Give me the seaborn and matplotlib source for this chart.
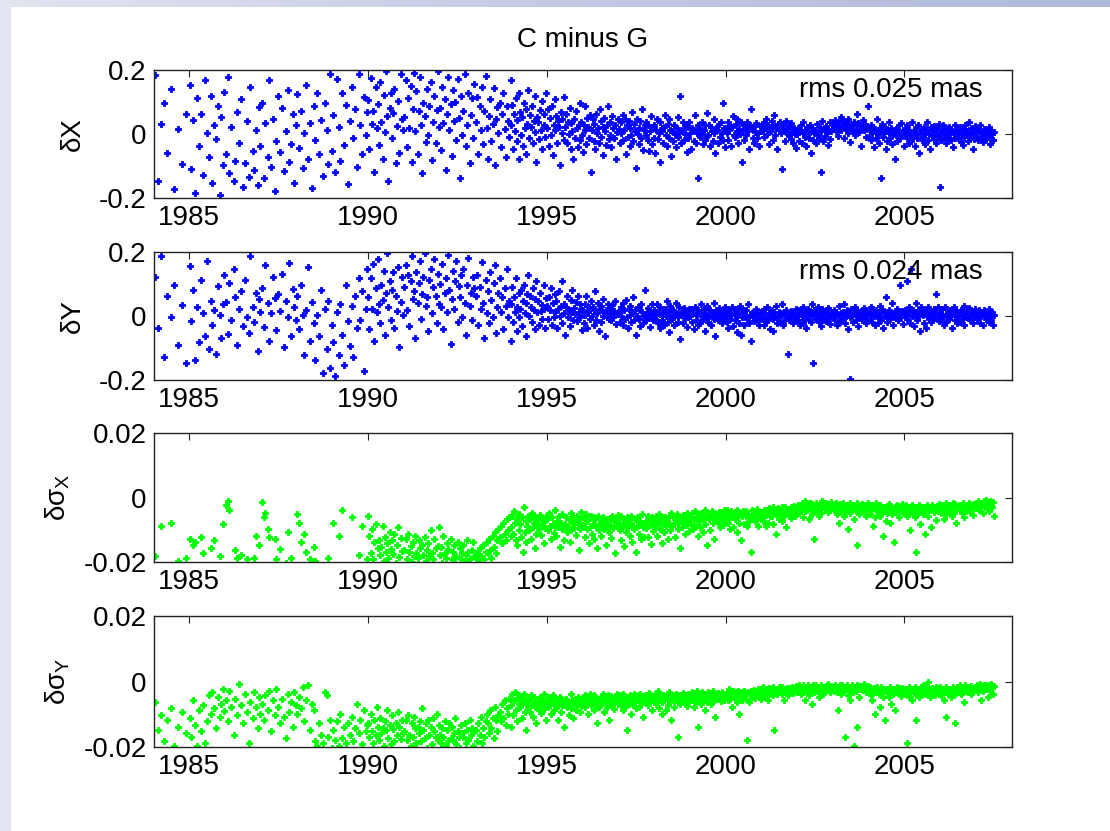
import numpy as np
import pandas as pd
import matplotlib
matplotlib.use("Agg")
import matplotlib.pyplot as plt
from matplotlib.patches import Rectangle
import seaborn as sns

# Session epochs (decimal years)
epoch = [
    1984.05, 1984.13, 1984.20, 1984.29, 1984.37, 1984.48, 1984.57, 1984.68, 1984.79, 1984.90,
    1985.02, 1985.06, 1985.11, 1985.17, 1985.22, 1985.27, 1985.33, 1985.38, 1985.44, 1985.49,
    1985.54, 1985.60, 1985.65, 1985.70, 1985.76, 1985.81, 1985.86, 1985.90, 1985.95, 1985.98,
    1986.03, 1986.08, 1986.12, 1986.18, 1986.24, 1986.29, 1986.34, 1986.40, 1986.45, 1986.50,
    1986.56, 1986.61, 1986.66, 1986.71, 1986.77, 1986.82, 1986.86, 1986.91, 1986.95, 1986.99,
    1987.04, 1987.09, 1987.13, 1987.19, 1987.24, 1987.28, 1987.34, 1987.39, 1987.44, 1987.49,
    1987.55, 1987.60, 1987.64, 1987.70, 1987.75, 1987.80, 1987.85, 1987.90, 1987.94, 1987.98,
    1988.02, 1988.07, 1988.12, 1988.17, 1988.22, 1988.27, 1988.32, 1988.38, 1988.43, 1988.48,
    1988.53, 1988.58, 1988.63, 1988.69, 1988.74, 1988.79, 1988.84, 1988.89, 1988.94, 1988.98,
    1989.03, 1989.08, 1989.13, 1989.18, 1989.23, 1989.28, 1989.33, 1989.39, 1989.44, 1989.49,
    1989.54, 1989.59, 1989.64, 1989.69, 1989.74, 1989.79, 1989.84, 1989.89, 1989.94, 1989.98,
    1990.01, 1990.04, 1990.08, 1990.11, 1990.14, 1990.17, 1990.21, 1990.24, 1990.27, 1990.31,
    1990.34, 1990.37, 1990.41, 1990.44, 1990.47, 1990.51, 1990.54, 1990.57, 1990.61, 1990.64,
    1990.67, 1990.71, 1990.74, 1990.77, 1990.81, 1990.84, 1990.87, 1990.91, 1990.94, 1990.97,
    1991.02, 1991.05, 1991.09, 1991.12, 1991.15, 1991.19, 1991.22, 1991.25, 1991.29, 1991.32,
    1991.35, 1991.39, 1991.42, 1991.45, 1991.49, 1991.52, 1991.55, 1991.59, 1991.62, 1991.65,
    1991.69, 1991.72, 1991.75, 1991.79, 1991.82, 1991.85, 1991.89, 1991.92, 1991.95, 1991.99,
    1992.01, 1992.04, 1992.08, 1992.11, 1992.14, 1992.17, 1992.21, 1992.24, 1992.27, 1992.31,
    1992.34, 1992.37, 1992.41, 1992.44, 1992.47, 1992.51, 1992.54, 1992.57, 1992.61, 1992.64,
    1992.67, 1992.71, 1992.74, 1992.77, 1992.81, 1992.84, 1992.87, 1992.91, 1992.94, 1992.97,
    1993.02, 1993.05, 1993.09, 1993.12, 1993.15, 1993.19, 1993.22, 1993.25, 1993.29, 1993.32,
    1993.35, 1993.39, 1993.42, 1993.45, 1993.49, 1993.52, 1993.55, 1993.59, 1993.62, 1993.65,
    1993.69, 1993.72, 1993.75, 1993.79, 1993.82, 1993.85, 1993.89, 1993.92, 1993.95, 1993.99,
    1994.01, 1994.03, 1994.06, 1994.08, 1994.11, 1994.13, 1994.16, 1994.18, 1994.21, 1994.23,
    1994.26, 1994.28, 1994.31, 1994.33, 1994.36, 1994.38, 1994.41, 1994.43, 1994.46, 1994.48,
    1994.51, 1994.53, 1994.56, 1994.58, 1994.61, 1994.63, 1994.66, 1994.68, 1994.71, 1994.73,
    1994.76, 1994.78, 1994.81, 1994.83, 1994.86, 1994.88, 1994.91, 1994.93, 1994.96, 1994.98,
    1995.02, 1995.04, 1995.07, 1995.09, 1995.12, 1995.14, 1995.17, 1995.19, 1995.22, 1995.24,
    1995.27, 1995.29, 1995.32, 1995.34, 1995.37, 1995.39, 1995.42, 1995.44, 1995.47, 1995.49,
    1995.52, 1995.54, 1995.57, 1995.59, 1995.62, 1995.64, 1995.67, 1995.69, 1995.72, 1995.74,
    1995.77, 1995.79, 1995.82, 1995.84, 1995.87, 1995.89, 1995.92, 1995.94, 1995.97, 1995.99,
    1996.01, 1996.03, 1996.06, 1996.08, 1996.11, 1996.13, 1996.16, 1996.18, 1996.21, 1996.23,
    1996.26, 1996.28, 1996.31, 1996.33, 1996.36, 1996.38, 1996.41, 1996.43, 1996.46, 1996.48,
    1996.51, 1996.53, 1996.56, 1996.58, 1996.61, 1996.63, 1996.66, 1996.68, 1996.71, 1996.73,
    1996.76, 1996.78, 1996.81, 1996.83, 1996.86, 1996.88, 1996.91, 1996.93, 1996.96, 1996.98,
    1997.02, 1997.04, 1997.07, 1997.09, 1997.12, 1997.14, 1997.17, 1997.19, 1997.22, 1997.24,
    1997.27, 1997.29, 1997.32, 1997.34, 1997.37, 1997.39, 1997.42, 1997.44, 1997.47, 1997.49,
    1997.52, 1997.54, 1997.57, 1997.59, 1997.62, 1997.64, 1997.67, 1997.69, 1997.72, 1997.74,
    1997.77, 1997.79, 1997.82, 1997.84, 1997.87, 1997.89, 1997.92, 1997.94, 1997.97, 1997.99,
    1998.01, 1998.03, 1998.06, 1998.08, 1998.11, 1998.13, 1998.16, 1998.18, 1998.21, 1998.23,
    1998.26, 1998.28, 1998.31, 1998.33, 1998.36, 1998.38, 1998.41, 1998.43, 1998.46, 1998.48,
    1998.51, 1998.53, 1998.56, 1998.58, 1998.61, 1998.63, 1998.66, 1998.68, 1998.71, 1998.73,
    1998.76, 1998.78, 1998.81, 1998.83, 1998.86, 1998.88, 1998.91, 1998.93, 1998.96, 1998.98,
    1999.02, 1999.04, 1999.07, 1999.09, 1999.12, 1999.14, 1999.17, 1999.19, 1999.22, 1999.24,
    1999.27, 1999.29, 1999.32, 1999.34, 1999.37, 1999.39, 1999.42, 1999.44, 1999.47, 1999.49,
    1999.52, 1999.54, 1999.57, 1999.59, 1999.62, 1999.64, 1999.67, 1999.69, 1999.72, 1999.74,
    1999.77, 1999.79, 1999.82, 1999.84, 1999.87, 1999.89, 1999.92, 1999.94, 1999.97, 1999.99,
    2000.01, 2000.03, 2000.06, 2000.08, 2000.11, 2000.13, 2000.16, 2000.18, 2000.21, 2000.23,
    2000.26, 2000.28, 2000.31, 2000.33, 2000.36, 2000.38, 2000.41, 2000.43, 2000.46, 2000.48,
    2000.51, 2000.53, 2000.56, 2000.58, 2000.61, 2000.63, 2000.66, 2000.68, 2000.71, 2000.73,
    2000.76, 2000.78, 2000.81, 2000.83, 2000.86, 2000.88, 2000.91, 2000.93, 2000.96, 2000.98,
    2001.02, 2001.04, 2001.07, 2001.09, 2001.12, 2001.14, 2001.17, 2001.19, 2001.22, 2001.24,
    2001.27, 2001.29, 2001.32, 2001.34, 2001.37, 2001.39, 2001.42, 2001.44, 2001.47, 2001.49,
    2001.52, 2001.54, 2001.57, 2001.59, 2001.62, 2001.64, 2001.67, 2001.69, 2001.72, 2001.74,
    2001.77, 2001.79, 2001.82, 2001.84, 2001.87, 2001.89, 2001.92, 2001.94, 2001.97, 2001.99,
    2002.01, 2002.03, 2002.06, 2002.08, 2002.11, 2002.13, 2002.16, 2002.18, 2002.21, 2002.23,
    2002.26, 2002.28, 2002.31, 2002.33, 2002.36, 2002.38, 2002.41, 2002.43, 2002.46, 2002.48,
    2002.51, 2002.53, 2002.56, 2002.58, 2002.61, 2002.63, 2002.66, 2002.68, 2002.71, 2002.73,
    2002.76, 2002.78, 2002.81, 2002.83, 2002.86, 2002.88, 2002.91, 2002.93, 2002.96, 2002.98,
    2003.02, 2003.04, 2003.07, 2003.09, 2003.12, 2003.14, 2003.17, 2003.19, 2003.22, 2003.24,
    2003.27, 2003.29, 2003.32, 2003.34, 2003.37, 2003.39, 2003.42, 2003.44, 2003.47, 2003.49,
    2003.52, 2003.54, 2003.57, 2003.59, 2003.62, 2003.64, 2003.67, 2003.69, 2003.72, 2003.74,
    2003.77, 2003.79, 2003.82, 2003.84, 2003.87, 2003.89, 2003.92, 2003.94, 2003.97, 2003.99,
    2004.01, 2004.03, 2004.06, 2004.08, 2004.11, 2004.13, 2004.16, 2004.18, 2004.21, 2004.23,
    2004.26, 2004.28, 2004.31, 2004.33, 2004.36, 2004.38, 2004.41, 2004.43, 2004.46, 2004.48,
    2004.51, 2004.53, 2004.56, 2004.58, 2004.61, 2004.63, 2004.66, 2004.68, 2004.71, 2004.73,
    2004.76, 2004.78, 2004.81, 2004.83, 2004.86, 2004.88, 2004.91, 2004.93, 2004.96, 2004.98,
    2005.02, 2005.04, 2005.07, 2005.09, 2005.12, 2005.14, 2005.17, 2005.19, 2005.22, 2005.24,
    2005.27, 2005.29, 2005.32, 2005.34, 2005.37, 2005.39, 2005.42, 2005.44, 2005.47, 2005.49,
    2005.52, 2005.54, 2005.57, 2005.59, 2005.62, 2005.64, 2005.67, 2005.69, 2005.72, 2005.74,
    2005.77, 2005.79, 2005.82, 2005.84, 2005.87, 2005.89, 2005.92, 2005.94, 2005.97, 2005.99,
    2006.01, 2006.03, 2006.06, 2006.08, 2006.11, 2006.13, 2006.16, 2006.18, 2006.21, 2006.23,
    2006.26, 2006.28, 2006.31, 2006.33, 2006.36, 2006.38, 2006.41, 2006.43, 2006.46, 2006.48,
    2006.51, 2006.53, 2006.56, 2006.58, 2006.61, 2006.63, 2006.66, 2006.68, 2006.71, 2006.73,
    2006.76, 2006.78, 2006.81, 2006.83, 2006.86, 2006.88, 2006.91, 2006.93, 2006.96, 2006.98,
    2007.01, 2007.04, 2007.06, 2007.09, 2007.12, 2007.14, 2007.17, 2007.20, 2007.22, 2007.25,
    2007.28, 2007.30, 2007.33, 2007.36, 2007.38, 2007.41, 2007.44, 2007.46, 2007.49, 2007.52,
]

# Nutation offset differences C - G, microarcseconds
dx_uas = [
    183, -147, 32, 96, -58, 141, -172, 17, -93, 64,
    154, -108, 43, -183, 112, -37, 61, -128, 168, 4,
    -72, 119, -153, 28, -17, 87, -191, 52, -98, 131,
    -63, 178, -121, 23, -148, -84, 69, -27, 108, -167,
    -92, 41, -134, 147, -53, -112, 12, -159, 83, -38,
    97, -138, 34, -71, 169, -102, 48, -178, -23, 118,
    -57, 81, -117, 9, 137, -88, -31, 62, -152, 27,
    124, -43, 73, -107, 3, 152, -79, 34, -168, 87,
    -19, 127, -63, 44, -131, 98, 13, -94, 187, -52,
    58, -118, 172, 22, -83, 128, -34, 91, -157, 42,
    148, -12, 79, -102, 189, 27, -61, 117, -3, 68,
    107, -48, 176, 31, 72, -118, 148, 19, 93, -33,
    162, 38, -77, 122, 7, 197, 57, -147, 81, 128,
    -14, 66, 141, -92, 24, 103, -58, 186, 47, 12,
    53, 168, -42, 113, 18, 151, -88, 79, 192, 9,
    133, -63, 72, 178, 29, -121, 98, 57, -24, 142,
    -2, 88, 163, -81, 37, 119, -28, 74, 198, 21,
    82, -51, 148, 33, 109, -113, 62, 177, 11, 93,
    -68, 139, 42, 101, -18, 172, 49, -138, 118, -4,
    73, 188, -37, 28, 127, -92, 58, 113, -12, 157,
    38, 117, -62, 88, 13, 146, -32, 71, 181, 19,
    -78, 57, 108, -23, 32, 143, -97, 48, 83, 2,
    97, -41, 63, 128, 17, -72, 86, 42, -8, 168,
    28, 91, -48, 63, 8, 112, -22, 43, 127, -77,
    68, -3, 52, -38, 97, 18, -61, 79, 31, 138,
    -12, 58, 23, 87, -29, 42, 118, 7, -88, 53,
    37, -17, 74, 11, 103, -46, 27, 62, -9, 129,
    18, 79, -38, 51, -2, 88, -67, 29, 108, 12,
    57, -28, 41, 21, -98, 68, 3, 48, 117, -19,
    22, 61, -27, 38, 1, 82, -47, 33, 9, -79,
    47, -11, 71, 19, -42, 27, 97, -18, 39, -4,
    -57, 28, 13, 87, -31, 49, 21, -12, 58, -118,
    12, 47, -21, 31, -48, 62, 2, 18, -29, 78,
    41, -8, 22, -67, 51, 9, -33, 28, 88, -17,
    -3, 38, -41, 57, 19, -13, 29, -78, 7, 48,
    17, -28, 39, 3, 58, -19, 11, 47, -61, 27,
    -9, 42, 18, -38, -2, 68, -21, 32, 8, -107,
    48, 1, -32, 19, 41, -11, 78, -49, 12, 28,
    -3, 37, -18, 29, -52, 9, 57, -31, 22, -12,
    27, -58, 12, 48, -17, 2, 39, -88, 18, 8,
    -29, 21, 59, -4, -38, 31, -12, 47, 11, -69,
    8, -21, 29, 1, -41, 18, 52, -8, 3, 118,
    -28, 12, 38, -19, -1, 27, -57, 21, -11, 39,
    2, -48, 19, 11, -22, 58, -29, 3, 28, -138,
    18, -9, 1, 38, -31, 12, -18, 29, 67, -7,
    -2, 28, -39, 21, 9, -21, 47, 2, -58, 19,
    11, -29, 31, -8, 39, 3, -19, 98, 18, -41,
    19, 2, 37, -18, 11, 28, -39, 21, 57, -3,
    -8, 31, 9, 48, -29, 17, 1, 38, -87, 12,
    28, -19, 22, -2, 39, 8, -48, 29, 78, 18,
    -11, 23, -27, 6, 33, -14, 2, -37, 26, 9,
    29, 12, 38, -9, 21, 47, 1, 28, -31, 19,
    8, 41, -18, 27, 58, -3, 19, -48, 31, 11,
    38, 2, 18, -108, 27, 9, -21, 42, 17, -1,
    -6, 24, -15, 33, 7, -28, 18, 1, -44, 13,
    1, 19, -21, 12, 28, -29, 3, 38, -9, 11,
    -38, 21, -1, -12, 29, -58, 8, 18, -19, 2,
    12, -28, 31, -3, -11, 22, -118, 9, 41, -21,
    17, -7, 26, 4, -33, 14, 36, -16, 8, 27,
    33, 21, 44, 8, 26, -7, 38, 17, 52, 12,
    24, 41, -13, 29, 16, 36, 3, 47, 22, -24,
    18, 31, 9, 39, -2, 27, 62, 14, 34, 6,
    28, -38, 21, 43, 11, 32, -9, 25, 17, 88,
    -9, 11, 28, -19, 2, 21, -41, 9, -11, 48,
    1, -29, 19, 12, -138, 31, -9, 2, 21, -48,
    11, -21, 3, 38, -12, 19, -31, 1, 9, -78,
    -4, 16, -23, 7, 27, -14, 33, -2, 12, -36,
    2, 18, -11, 29, -29, 12, -1, -22, 39, -9,
    9, -38, 1, 21, -12, 28, -59, 2, 11, -19,
    -8, 21, 3, -31, 12, 38, -19, 1, -48, 22,
    14, -4, 26, -17, 7, -28, 19, -6, 31, -167,
    1, -18, 12, 28, -9, 2, 19, -29, 11, -12,
    21, 1, -19, 9, -41, 3, 29, -11, 12, -2,
    -14, 7, 23, -26, 4, -33, 16, -8, 27, -3,
    9, -21, 36, -12, 2, 18, -47, 6, -17, 24,
    -6, 14, -19, 8, 27, -11, 3, -24, 17, -2,
    11, -15, 4, 22, -9, -31, 13, 1, -18, 7,
]

dy_uas = [
    123, -38, 187, -127, 62, -4, 98, -91, 33, -148,
    157, -17, 82, -138, 28, -81, 113, 8, -63, 172,
    -102, 47, -28, 19, -118, 93, 2, -69, 38, 128,
    43, -57, 103, -12, 148, 58, -92, 22, 78, -31,
    112, -3, -52, 188, 27, -18, 71, -108, 53, 11,
    88, -33, 158, 41, -79, 9, 121, 57, -43, 68,
    17, 131, -98, 48, -2, 167, -61, 83, 29, -13,
    61, -42, 97, 3, -122, 18, 152, -78, 43, -21,
    -138, 2, -63, 81, -177, 23, -103, 48, -162, -28,
    -82, -188, 12, -121, 37, -58, -152, 98, -17, -93,
    31, -128, 63, -38, 118, -11, 78, -171, 22, 148,
    58, -41, 118, 22, 163, -78, 88, 12, 177, 38,
    -22, 98, 51, 141, -58, 72, 197, 28, 108, -13,
    81, 137, -37, 62, 17, 152, -96, 44, 121, 3,
    92, 158, 18, 128, -32, 108, 187, 53, 78, -68,
    138, 41, 102, 171, -8, 68, 122, 198, 31, 58,
    -48, 112, 148, 8, 91, 178, 62, -22, 131, 39,
    101, 29, 162, -41, 72, 118, 11, 191, 82, -88,
    52, 142, 21, 108, 172, -19, 93, 58, 128, -2,
    148, 42, -58, 98, 181, 32, 71, -12, 122, 88,
    62, 128, -28, 91, 21, 168, 42, -68, 112, 8,
    78, -21, 138, 49, -3, 102, 158, -52, 28, 72,
    118, 12, 58, -41, 88, 31, 148, -2, 48, -78,
    38, 91, -18, 58, 12, 118, 29, -48, 72, -3,
    21, 82, -31, 48, 98, 8, -61, 41, 68, 128,
    -1, 62, 28, -19, 88, 18, 52, -42, 108, 11,
    47, -27, 73, 16, 34, -8, 96, 23, -36, 57,
    31, -9, 58, 19, 88, -28, 41, -2, 68, 11,
    48, -38, 21, 78, 1, 32, 108, -21, 39, 9,
    -58, 29, 62, -3, 18, -31, 51, 12, 82, -11,
    26, 7, 44, -17, 63, 14, -4, 37, 22, -43,
    19, -21, 38, 2, 61, -39, 11, 28, -9, 48,
    -1, 29, -28, 18, 78, -11, 9, 41, -48, 21,
    31, -18, 1, 52, 12, -62, 19, -2, 38, -8,
    8, 24, -13, 33, -4, 17, 46, -26, 6, 14,
    11, -19, 28, 1, 41, -29, 18, -9, 51, -3,
    -38, 21, 2, 31, -18, 9, 58, -11, 19, -59,
    1, 28, -8, 22, -31, 38, 11, -21, -1, 81,
    7, -14, 24, -6, 16, -33, 3, 36, -12, 13,
    18, -9, 2, 38, -21, 11, -39, 29, 1, -11,
    9, -28, 21, -1, 48, -19, 12, -51, 31, -2,
    -9, 19, -29, 3, 41, 8, -18, 1, 28, -71,
    4, 14, -22, 26, -7, 9, -34, 17, -3, 21,
    -1, 21, -18, 9, -41, 28, 2, -11, 19, -29,
    11, -21, 38, 1, -9, 22, -48, 8, -2, 31,
    -19, 1, 18, -28, 11, -1, 41, -9, -61, 19,
    6, -13, 24, -4, 14, -22, 3, 17, -8, 27,
    1, -19, 11, -38, 19, -9, 2, 29, -31, 8,
    -11, 21, -49, 1, 9, -21, 31, -58, -2, 18,
    11, -29, 1, 19, -8, 39, -21, 2, -79, 9,
    -4, 14, -16, 7, 23, -12, 4, -27, 13, -6,
    -9, 11, -28, 21, -1, -19, 29, -11, 9, -41,
    2, 18, -9, -48, 11, 1, 31, -21, -2, 12,
    -19, 8, 2, 38, -29, 11, -12, 19, 1, -118,
    6, -14, 17, -3, 9, -23, 13, -7, 22, -11,
    2, -11, 19, -28, 9, -1, -21, 28, -9, 11,
    -39, 1, 21, -12, 8, -19, 38, 2, -148, 18,
    11, -8, -2, 29, -18, 9, -31, 1, 21, -11,
    -4, 13, -17, 6, 24, -9, 3, -26, 12, 7,
    1, 19, -11, 11, -29, 2, 31, -19, 9, -1,
    -9, 12, 39, -21, 1, 18, -41, 11, -2, -197,
    21, -1, -18, 9, 28, -11, 2, 19, -31, 8,
    -6, 16, -13, 4, 26, -8, 11, -21, 3, 14,
    8, -11, 2, 28, -19, 12, -1, -29, 19, 1,
    -21, 9, 31, -2, -11, 21, -38, 11, 1, 58,
    -1, -19, 12, 18, -9, 2, 41, -28, 9, -2,
    14, -6, 23, -14, 7, 97, -3, 16, -24, 5,
    19, 2, 108, -9, 29, 11, -21, 148, 1, 18,
    -31, 9, -2, 41, -11, 19, 1, -48, 28, 12,
    2, -21, 18, 11, -39, 1, 29, -9, 12, -19,
    6, -13, 22, -4, 14, 68, -7, 27, -16, 3,
    9, -11, 21, 1, -28, 29, 2, -19, 11, -1,
    -9, 18, 2, -38, 12, 28, -11, 1, 19, -21,
    1, 11, -18, 19, 3, -9, 31, -29, 9, -2,
    13, -6, 24, -14, 4, 17, -23, 8, -3, 21,
    11, -9, 2, 19, -21, 1, 12, -28, 18, -1,
    -8, 9, 3, -19, 21, -2, -11, 12, -29, 4,
]

# Formal-error differences C - G, units of 1e-4 mas
dsx_e4 = [
    -182, -251, -88, -303, -277, -79, -243, -198, -321, -187,
    -128, -272, -148, -138, -302, -259, -121, -171, -352, -228,
    -261, -158, -309, -131, -219, -292, -181, -248, -83, -279,
    -22, -12, -38, -218, -301, -162, -188, -261, -178, -238,
    -281, -191, -312, -208, -252, -187, -119, -291, -148, -332,
    -13, -62, -48, -98, -121, -209, -268, -128, -192, -298,
    -161, -251, -328, -202, -108, -279, -189, -242, -211, -258,
    -52, -79, -138, -232, -112, -168, -288, -191, -249, -152,
    -198, -318, -272, -238, -302, -221, -281, -188, -262, -338,
    -78, -262, -308, -118, -231, -38, -292, -248, -212, -341,
    -62, -268, -228, -302, -179, -251, -88, -222, -288, -192,
    -58, -118, -172, -98, -191, -138, -82, -209, -158, -131,
    -178, -152, -88, -198, -122, -168, -142, -188, -108, -161,
    -132, -176, -112, -203, -147, -92, -183, -127, -166, -214,
    -162, -128, -191, -112, -168, -149, -201, -138, -181, -119,
    -171, -188, -131, -158, -212, -148, -178, -122, -198, -162,
    -141, -182, -102, -172, -192, -128, -158, -208, -151, -93,
    -178, -152, -203, -118, -171, -188, -142, -161, -209, -128,
    -191, -168, -148, -202, -181, -138, -221, -158, -192, -172,
    -148, -198, -178, -132, -168, -192, -212, -162, -138, -182,
    -188, -172, -198, -158, -182, -208, -148, -191, -168, -138,
    -172, -128, -162, -188, -118, -152, -108, -171, -132, -98,
    -122, -88, -142, -78, -113, -131, -68, -102, -62, -118,
    -92, -58, -112, -42, -78, -132, -68, -148, -52, -101,
    -82, -121, -61, -168, -28, -108, -72, -138, -88, -58,
    -102, -68, -128, -48, -91, -79, -158, -62, -112, -81,
    -71, -98, -53, -117, -86, -64, -142, -76, -94, -57,
    -68, -102, -48, -88, -128, -61, -82, -111, -38, -92,
    -118, -72, -91, -58, -152, -78, -98, -52, -88, -131,
    -81, -62, -108, -92, -68, -138, -48, -101, -78, -58,
    -94, -73, -117, -56, -83, -162, -67, -99, -44, -86,
    -88, -62, -121, -78, -52, -98, -71, -142, -91, -58,
    -112, -81, -61, -128, -68, -92, -158, -58, -102, -82,
    -72, -118, -88, -62, -98, -78, -148, -68, -92, -108,
    -63, -84, -127, -57, -96, -74, -173, -66, -89, -53,
    -78, -102, -58, -132, -88, -68, -151, -82, -108, -62,
    -92, -71, -118, -78, -58, -138, -88, -98, -68, -168,
    -62, -88, -78, -112, -72, -128, -52, -91, -121, -82,
    -74, -96, -57, -123, -67, -84, -143, -61, -103, -79,
    -72, -88, -58, -118, -78, -52, -98, -68, -142, -62,
    -82, -108, -61, -88, -72, -128, -58, -78, -102, -48,
    -88, -62, -82, -122, -68, -51, -98, -78, -58, -158,
    -66, -93, -54, -77, -113, -63, -86, -47, -71, -104,
    -58, -82, -48, -98, -68, -41, -88, -62, -118, -52,
    -72, -91, -48, -61, -108, -68, -38, -82, -58, -148,
    -52, -68, -102, -58, -42, -78, -62, -128, -48, -72,
    -57, -76, -44, -93, -63, -51, -84, -67, -39, -71,
    -62, -38, -78, -52, -68, -98, -42, -58, -92, -48,
    -68, -52, -108, -38, -62, -78, -48, -132, -58, -42,
    -48, -82, -58, -41, -88, -52, -72, -61, -168, -38,
    -54, -66, -43, -74, -57, -36, -87, -49, -63, -46,
    -48, -72, -38, -62, -88, -42, -52, -78, -32, -58,
    -42, -58, -28, -82, -48, -38, -112, -52, -32, -68,
    -38, -48, -31, -72, -42, -58, -28, -92, -41, -52,
    -36, -47, -29, -63, -34, -44, -26, -57, -39, -31,
    -28, -22, -48, -32, -38, -18, -62, -28, -12, -42,
    -22, -38, -31, -68, -18, -32, -52, -21, -41, -128,
    -32, -18, -42, -28, -58, -22, -31, -48, -11, -29,
    -24, -36, -17, -33, -27, -46, -21, -39, -14, -31,
    -22, -38, -28, -18, -52, -31, -78, -21, -42, -28,
    -32, -18, -58, -28, -41, -22, -98, -32, -48, -18,
    -38, -28, -22, -68, -32, -42, -18, -148, -28, -52,
    -26, -34, -19, -41, -23, -31, -57, -24, -36, -17,
    -28, -52, -22, -38, -32, -88, -28, -62, -18, -42,
    -38, -32, -58, -22, -48, -28, -118, -42, -31, -72,
    -32, -48, -38, -21, -78, -28, -52, -41, -138, -32,
    -27, -44, -23, -36, -61, -29, -34, -19, -47, -26,
    -42, -22, -58, -28, -52, -31, -102, -38, -22, -48,
    -28, -62, -38, -168, -32, -48, -22, -82, -41, -28,
    -52, -32, -41, -112, -28, -22, -58, -38, -32, -92,
    -37, -24, -46, -29, -33, -71, -26, -43, -21, -35,
    -32, -48, -22, -42, -68, -28, -18, -52, -31, -38,
    -22, -41, -28, -58, -18, -48, -32, -21, -78, -28,
    -28, -22, -38, -31, -48, -18, -32, -62, -22, -41,
    -26, -36, -17, -44, -24, -29, -53, -21, -34, -19,
    -18, -32, -12, -38, -22, -28, -18, -48, -11, -31,
    -21, -9, -28, -19, -42, -12, -22, -31, -14, -58,
]

dsy_e4 = [
    -62, -148, -102, -182, -118, -81, -198, -138, -92, -158,
    -112, -168, -58, -132, -198, -88, -151, -72, -188, -122,
    -42, -98, -31, -82, -142, -48, -108, -68, -22, -91,
    -58, -122, -28, -78, -162, -52, -102, -8, -72, -128,
    -38, -92, -188, -62, -112, -32, -78, -141, -48, -98,
    -68, -118, -42, -88, -28, -152, -58, -101, -22, -78,
    -128, -52, -108, -172, -38, -92, -62, -138, -32, -72,
    -98, -48, -82, -18, -122, -58, -12, -148, -68, -88,
    -182, -198, -128, -162, -188, -32, -42, -168, -118, -202,
    -148, -178, -122, -198, -98, -172, -138, -188, -128, -162,
    -108, -182, -142, -68, -158, -118, -191, -88, -152, -132,
    -128, -168, -98, -152, -188, -118, -162, -78, -138, -178,
    -112, -158, -142, -198, -122, -148, -88, -172, -132, -192,
    -102, -146, -183, -127, -163, -94, -139, -176, -117, -157,
    -152, -118, -178, -102, -162, -198, -128, -168, -108, -142,
    -188, -138, -158, -122, -182, -82, -148, -172, -128, -202,
    -118, -162, -138, -192, -112, -152, -168, -98, -178, -132,
    -162, -188, -142, -168, -122, -198, -148, -182, -128, -172,
    -138, -178, -158, -112, -192, -152, -168, -202, -132, -158,
    -168, -128, -188, -148, -178, -118, -162, -142, -198, -152,
    -148, -182, -128, -162, -108, -188, -142, -168, -122, -98,
    -128, -158, -88, -142, -112, -172, -78, -118, -152, -102,
    -92, -122, -68, -112, -58, -132, -82, -98, -52, -138,
    -72, -38, -102, -58, -32, -88, -52, -122, -68, -42,
    -78, -48, -112, -62, -38, -92, -68, -148, -52, -82,
    -58, -92, -42, -72, -108, -48, -78, -62, -128, -68,
    -64, -86, -47, -97, -56, -73, -39, -83, -61, -117,
    -62, -78, -48, -72, -98, -58, -42, -88, -68, -52,
    -82, -58, -118, -68, -48, -92, -62, -72, -138, -58,
    -72, -52, -78, -62, -102, -68, -38, -82, -58, -112,
    -66, -54, -87, -71, -46, -63, -93, -57, -76, -49,
    -52, -68, -42, -78, -58, -48, -98, -62, -38, -72,
    -58, -48, -88, -42, -68, -62, -128, -52, -78, -58,
    -48, -72, -58, -38, -92, -52, -62, -78, -42, -118,
    -54, -67, -44, -73, -57, -83, -46, -61, -39, -69,
    -58, -42, -72, -48, -88, -38, -62, -78, -52, -148,
    -48, -68, -42, -58, -98, -52, -72, -38, -62, -82,
    -42, -58, -48, -78, -38, -68, -52, -108, -58, -42,
    -53, -64, -47, -71, -36, -56, -44, -87, -51, -63,
    -48, -38, -68, -58, -28, -82, -52, -42, -98, -62,
    -42, -58, -48, -88, -38, -72, -52, -31, -62, -118,
    -52, -42, -78, -58, -38, -48, -168, -62, -42, -68,
    -46, -57, -34, -63, -49, -41, -74, -53, -37, -59,
    -42, -58, -32, -52, -78, -38, -62, -28, -48, -138,
    -52, -38, -68, -32, -58, -42, -88, -48, -38, -62,
    -32, -48, -42, -68, -38, -28, -58, -42, -108, -52,
    -44, -36, -53, -41, -61, -33, -47, -39, -56, -43,
    -38, -32, -58, -42, -22, -52, -38, -78, -28, -48,
    -32, -48, -42, -62, -28, -98, -42, -31, -58, -38,
    -42, -28, -52, -38, -178, -32, -62, -42, -28, -48,
    -36, -44, -27, -51, -33, -41, -24, -46, -35, -53,
    -32, -18, -48, -28, -42, -22, -31, -58, -21, -38,
    -22, -28, -42, -18, -148, -32, -22, -38, -28, -18,
    -28, -22, -38, -18, -32, -58, -22, -28, -21, -42,
    -26, -19, -33, -24, -17, -36, -23, -29, -15, -31,
    -18, -28, -12, -22, -38, -18, -32, -11, -22, -58,
    -28, -18, -12, -42, -21, -28, -18, -68, -12, -32,
    -22, -11, -28, -18, -48, -22, -12, -31, -18, -38,
    -16, -24, -13, -27, -19, -9, -23, -31, -14, -21,
    -22, -28, -12, -18, -32, -88, -22, -11, -38, -18,
    -12, -22, -28, -168, -18, -12, -42, -22, -28, -58,
    -18, -11, -32, -198, -22, -28, -12, -138, -18, -48,
    -14, -23, -17, -26, -9, -21, -31, -16, -24, -13,
    -28, -18, -42, -22, -58, -28, -21, -98, -32, -18,
    -22, -38, -28, -78, -18, -32, -48, -22, -118, -28,
    -32, -22, -48, -28, -18, -68, -32, -38, -22, -88,
    -24, -31, -17, -36, -21, -27, -43, -19, -26, -34,
    -22, -38, -28, -188, -18, -48, -32, -22, -58, -28,
    -32, -18, -42, -118, -28, -22, -48, -32, -18, -38,
    -12, -28, -22, -38, -18, -32, -2, -22, -48, -28,
    -26, -19, -34, -23, -41, -16, -29, -21, -37, -24,
    -18, -42, -28, -22, -58, -32, -18, -108, -28, -38,
    -32, -22, -48, -28, -18, -42, -22, -128, -32, -18,
    -22, -28, -12, -38, -22, -32, -62, -18, -12, -28,
    -21, -33, -16, -27, -39, -14, -24, -31, -19, -26,
    -18, -12, -32, -22, -8, -58, -22, -28, -12, -18,
    -11, -22, -48, -12, -18, -28, -9, -21, -38, -13,
]

panel_labels = ["δX", "δY", "δσ$_X$", "δσ$_Y$"]
y_ticks_pos = [-0.2, 0.0, 0.2]
y_ticks_sig = [-0.02, 0.0, 0.02]
y_ticklabels_pos = ["-0.2", "0", "0.2"]
y_ticklabels_sig = ["-0.02", "0", "0.02"]
x_ticks = [1985, 1990, 1995, 2000, 2005]
x_ticklabels = ["1985", "1990", "1995", "2000", "2005"]
rms_labels = ["rms 0.025 mas", "rms 0.024 mas", None, None]
title_text = "C minus G"

n = len(epoch)
assert all(len(a) == n for a in (dx_uas, dy_uas, dsx_e4, dsy_e4)), \
    [n, len(dx_uas), len(dy_uas), len(dsx_e4), len(dsy_e4)]

df = pd.DataFrame({
    "epoch": epoch,
    "dX": np.asarray(dx_uas) / 1000.0,
    "dY": np.asarray(dy_uas) / 1000.0,
    "dsX": np.asarray(dsx_e4) / 10000.0,
    "dsY": np.asarray(dsy_e4) / 10000.0,
})

sns.set_theme(style="white")
plt.rcParams["font.family"] = ["Liberation Sans", "DejaVu Sans"]
plt.rcParams["mathtext.fontset"] = "custom"
plt.rcParams["mathtext.rm"] = "Liberation Sans"
plt.rcParams["mathtext.it"] = "Liberation Sans"
plt.rcParams["axes.unicode_minus"] = False

FS = 20
fig = plt.figure(figsize=(11.1, 8.31), dpi=100, facecolor="white")

# slide frame: pale strip on the left and a gradient band on top
fig.patches.append(Rectangle((0, 0), 11 / 1110, 1, transform=fig.transFigure,
                             facecolor="#e3e5f0", edgecolor="none", zorder=0))
band = fig.add_axes([0, 1 - 7 / 831, 1, 7 / 831])
band.imshow(np.linspace(0, 1, 256)[None, :], aspect="auto",
            cmap=matplotlib.colors.LinearSegmentedColormap.from_list(
                "band", ["#e2e4ef", "#c4cae4", "#b0b9da"]),
            extent=[0, 1, 0, 1])
band.set_axis_off()

left, width = 153.5 / 1110, (1011.5 - 153.5) / 1110
rows_px = [(70, 198), (252, 380), (433, 562), (616, 747)]
columns = ["dX", "dY", "dsX", "dsY"]
colors = ["#0000ff", "#0000ff", "#00ff00", "#00ff00"]

for i, (top, bot) in enumerate(rows_px):
    ax = fig.add_axes([left, 1 - bot / 831, width, (bot - top) / 831])
    sns.scatterplot(data=df, x="epoch", y=columns[i], ax=ax, marker="P",
                    s=18, color=colors[i], linewidth=0.6, edgecolor=colors[i],
                    legend=False)
    ax.set_xlim(1984, 2008)
    if i < 2:
        ax.set_ylim(-0.2, 0.2)
        ax.set_yticks(y_ticks_pos, y_ticklabels_pos)
        ax.yaxis.set_label_coords(-0.0786, 0.5)
    else:
        ax.set_ylim(-0.02, 0.02)
        ax.set_yticks(y_ticks_sig, y_ticklabels_sig)
        ax.yaxis.set_label_coords(-0.095, 0.5)
    ax.set_xticks(x_ticks, x_ticklabels)
    ax.set_xlabel("")
    ax.set_ylabel(panel_labels[i], fontsize=FS, color="black")
    ax.tick_params(direction="in", top=True, right=True, length=5, width=0.8,
                   labelsize=FS, pad=5, colors="#222222", labelcolor="black")
    for sp in ax.spines.values():
        sp.set_visible(True)
        sp.set_color("#222222")
        sp.set_linewidth(1.0)
    if rms_labels[i]:
        ax.text(0.966, 0.789, rms_labels[i], transform=ax.transAxes,
                ha="right", va="baseline", fontsize=FS, color="black")
    if i == 0:
        ax.set_title(title_text, fontsize=FS, pad=16.5, color="black")

fig.savefig("out.png", dpi=100, facecolor=fig.get_facecolor())
